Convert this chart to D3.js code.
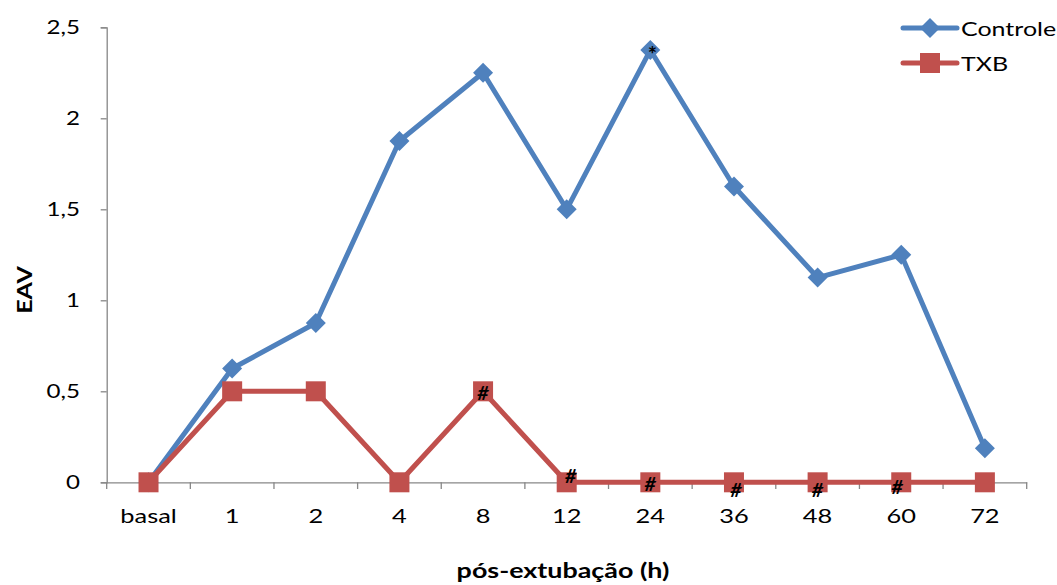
<!DOCTYPE html>
<html><head><meta charset="utf-8">
<script src="https://cdn.jsdelivr.net/npm/d3@7"></script>
<style>body{margin:0;background:#fff}svg{display:block}text{font-family:Lato,"Open Sans",sans-serif}</style>
</head><body>
<svg id="c" width="1057" height="585"></svg>
<script>
const categories = ["basal","1","2","4","8","12","24","36","48","60","72"];
const controle = [0,0.625,0.875,1.875,2.25,1.5,2.375,1.625,1.125,1.25,0.1875];
const txb = [0,0.5,0.5,0,0.5,0,0,0,0,0,0];
const yTicks = [0,0.5,1,1.5,2,2.5];
const txbMarks = [null,null,null,null,"#","#","#","#","#","#",null];
const controleMarks = [null,null,null,null,null,null,"*",null,null,null,null];
const markOffsets = [[0,0],[0,0],[0,0],[0,0],[0,2],[4,-6],[0,2],[2,8],[0,8],[-4,5],[0,0]];

const svg = d3.select("#c");
const x = d3.scaleBand().domain(categories).range([106.7,1026.7]);
const y = d3.scaleLinear().domain([0,2.5]).range([482.3,27.3]);
const cx = d => x(d) + x.bandwidth()/2;
const axisColor = "#878787";
const SX = 1.27;

function stretchText(parent, px, py, str, opts){
  const g = parent.append("g").attr("transform",`translate(${px},${py}) ${opts.rotate?`rotate(${opts.rotate})`:""} scale(${opts.sx||SX},1)`);
  return g.append("text").attr("text-anchor",opts.anchor||"middle")
    .attr("dominant-baseline",opts.baseline||"auto")
    .attr("font-size",opts.size||19).attr("font-weight",opts.weight||"normal")
    .attr("font-style",opts.style||"normal").attr("fill","#000").text(str);
}

// y axis
const ya = svg.append("g").attr("transform","translate(106.7,0)")
  .call(d3.axisLeft(y).tickValues(yTicks).tickSize(6).tickFormat(""));
ya.select(".domain").attr("stroke",axisColor).attr("stroke-width",1.3);
ya.selectAll(".tick line").attr("stroke",axisColor).attr("stroke-width",1.3);
const yl = svg.append("g");
yTicks.forEach(t => stretchText(yl, 80, y(t)+7, String(t).replace(".",","), {anchor:"end", size:19}));

// x axis
const xa = svg.append("g").attr("transform","translate(0,482.3)")
  .call(d3.axisBottom(x).tickSize(0).tickFormat(""));
xa.select(".domain").attr("stroke",axisColor).attr("stroke-width",1.3);
const bounds = d3.range(categories.length+1).map(i => x.range()[0] + i*x.step());
svg.append("g").selectAll("line").data(bounds).join("line")
  .attr("x1",d=>d).attr("x2",d=>d).attr("y1",482.3).attr("y2",489)
  .attr("stroke",axisColor).attr("stroke-width",1.3);
const xl = svg.append("g");
categories.forEach(c => stretchText(xl, cx(c), 523, c, {size:20}));

// titles
stretchText(svg, 563, 578, "pós-extubação (h)", {size:21, weight:"bold", sx:1.28});
stretchText(svg, 32, 290, "EAV", {size:20, weight:"bold", rotate:-90, sx:1.25});

const line = d3.line().x((d,i)=>cx(categories[i])).y(d=>y(d));
const blue = "#4F81BD", red = "#C0504D";

svg.append("path").datum(controle).attr("d",line).attr("fill","none")
  .attr("stroke",blue).attr("stroke-width",5).attr("stroke-linejoin","round");
svg.append("g").selectAll("path").data(controle).join("path")
  .attr("d", d3.symbol(d3.symbolSquare, 200))
  .attr("transform",(d,i)=>`translate(${cx(categories[i])},${y(d)}) rotate(45)`)
  .attr("fill",blue);

svg.append("path").datum(txb).attr("d",line).attr("fill","none")
  .attr("stroke",red).attr("stroke-width",5).attr("stroke-linejoin","round");
svg.append("g").selectAll("rect").data(txb).join("rect")
  .attr("x",(d,i)=>cx(categories[i])-10).attr("y",d=>y(d)-10)
  .attr("width",20).attr("height",20).attr("fill",red);

// significance marks
const mk = svg.append("g");
txb.forEach((d,i)=>{
  if(!txbMarks[i]) return;
  stretchText(mk, cx(categories[i])+markOffsets[i][0], y(d)+markOffsets[i][1]+7, txbMarks[i], {size:18, weight:"bold", style:"italic", sx:1.1});
});
controle.forEach((d,i)=>{
  if(!controleMarks[i]) return;
  stretchText(mk, cx(categories[i])+2, y(d)+12, controleMarks[i], {size:20, weight:"bold", sx:1.1});
});

// legend
const lg = svg.append("g");
const items = [{name:"Controle",color:blue,sym:"diamond",y:28},{name:"TXB",color:red,sym:"square",y:63}];
items.forEach(it=>{
  lg.append("line").attr("x1",903).attr("x2",957).attr("y1",it.y).attr("y2",it.y)
    .attr("stroke",it.color).attr("stroke-width",5).attr("stroke-linecap","round");
  if(it.sym==="diamond"){
    lg.append("path").attr("d",d3.symbol(d3.symbolSquare,200)).attr("transform",`translate(930,${it.y}) rotate(45)`).attr("fill",it.color);
  } else {
    lg.append("rect").attr("x",920).attr("y",it.y-10).attr("width",20).attr("height",20).attr("fill",it.color);
  }
  stretchText(lg, 961, it.y+7.5, it.name, {anchor:"start", size:20, sx:1.25});
});
</script>
</body></html>
